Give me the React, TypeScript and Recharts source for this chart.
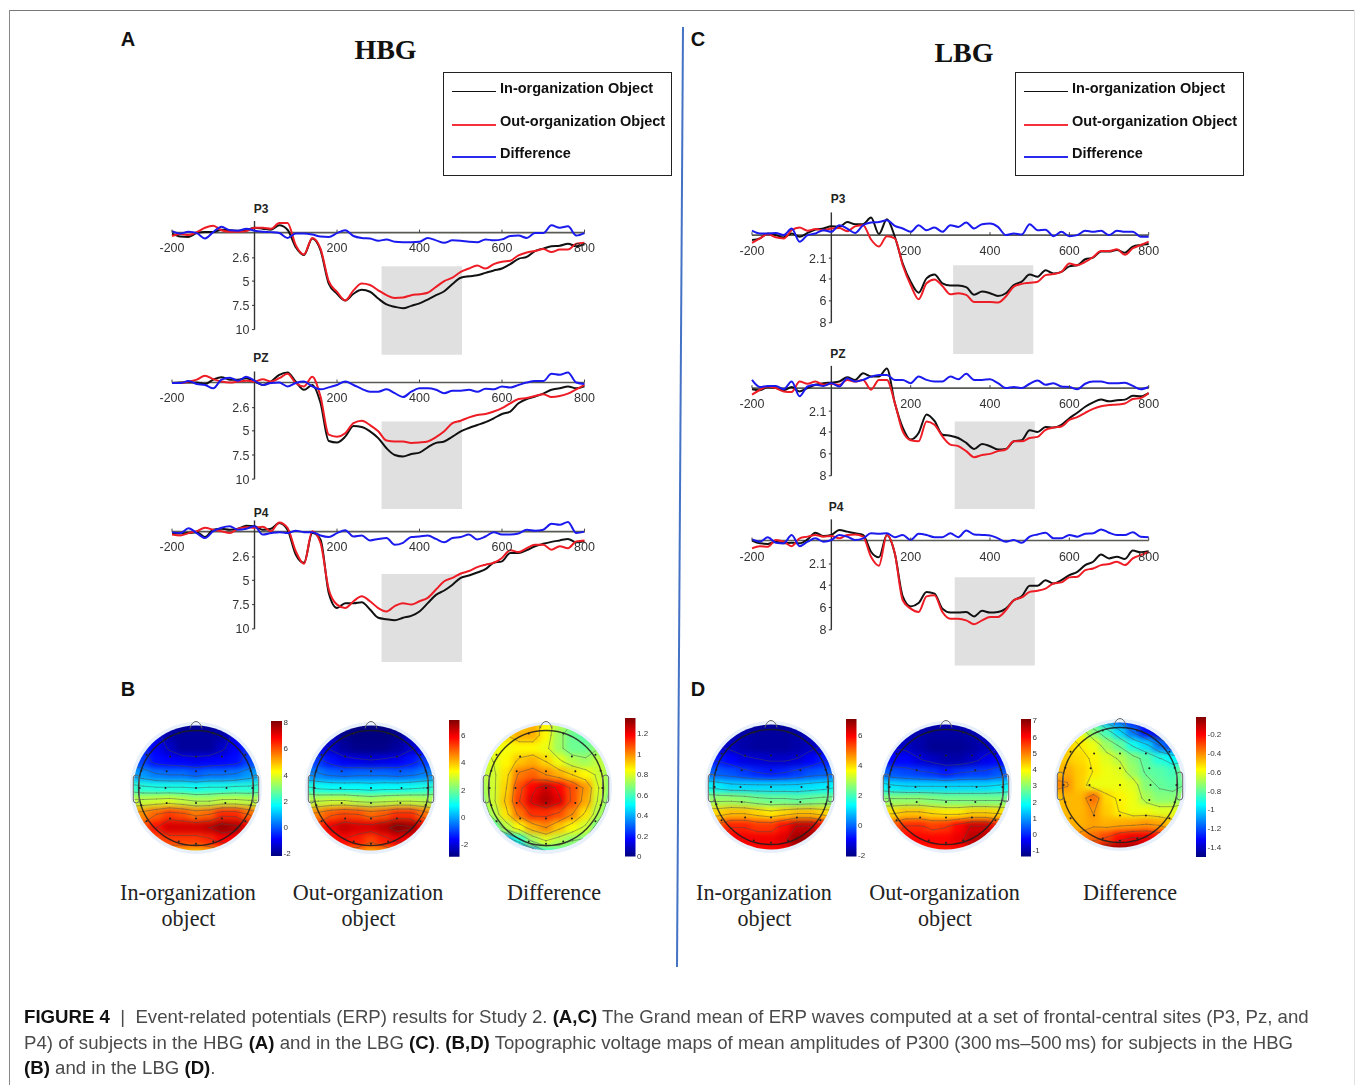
import React from "react";
import { LineChart, Line, XAxis, YAxis, ReferenceArea, ReferenceLine, ScatterChart, Scatter } from "recharts";

// ---- ERP data: latency (ms) and amplitude (µV, plotted with positive downward)
const latency = [-200,-180,-160,-140,-120,-100,-80,-60,-40,-20,0,20,40,60,80,100,120,140,160,180,200,220,240,260,280,300,320,340,360,380,400,420,440,460,480,500,520,540,560,580,600,620,640,660,680,700,720,740,760,780,800];

const hbgP3In = [.1,.4,.45,.05,-.05,-.05,-.3,-.25,-.2,-.25,-.5,-.4,-.3,-.75,-.3,1.5,2.3,.6,1.8,5.25,6.3,7,6.3,5.9,6.1,6.8,7.4,7.65,7.8,7.55,7.3,6.9,6.45,6.05,5.3,4.65,4.5,4.4,4.15,3.9,3.7,3.25,2.7,2.5,1.9,1.65,1.4,1.35,1.15,1.4,1.2];
const hbgP3Out = [.35,.15,.25,-.05,-.5,-.7,-.25,-.1,-.1,-.15,-.5,-.5,-.4,-1,-1,1.3,2.25,.55,1.65,5,6.1,7,5.95,5.25,5.4,5.95,6.45,6.75,6.7,6.45,6.35,6.2,5.6,5,4.65,4.05,3.7,3.4,3.7,3.25,3,2.9,2.35,2.05,1.9,1.7,2,1.75,1.75,1.15,1.05];
const hbgP3Diff = [-.15,.1,-.1,.05,.6,-.05,-.6,-.25,-.2,-.4,-.2,-.1,-.05,.05,.55,.1,.1,.2,.4,.45,.05,-.25,.35,.55,.6,.85,.7,.95,1,1,.95,.55,.8,1.05,.8,.85,.95,1,.7,.8,.7,.35,.3,.55,.05,.05,-.75,-.5,-.65,.3,.05];

const hbgPzIn = [.05,0,0,0,.15,-.3,-.55,-.3,-.3,-.45,-.1,.25,-.1,-.8,-1.05,-.1,.75,.25,2.1,6.05,6.2,5.6,4.5,4.6,5.05,5.75,6.8,7.5,7.65,7.4,7.25,6.7,6.25,6.1,5.6,5.05,4.7,4.4,4.1,3.7,3.25,3,2.15,1.7,1.45,1.15,.75,.6,.4,.6,.4];
const hbgPzOut = [.05,.05,-.1,-.3,-.7,-.35,-.1,0,-.1,-.2,-.1,-.35,-.1,-.45,-.9,.05,.4,-.6,1.45,5.4,5.6,5.25,4.2,3.95,4.4,5.05,6,6.1,6.1,6.25,6.2,6.1,5.65,5.05,4.2,3.95,3.6,3.35,3.25,3,2.65,2.15,1.7,1.6,1.4,1.2,1.5,1.4,1.15,.7,.25];
const hbgPzDiff = [.05,.05,-.15,.15,.25,.6,-.3,-.5,-.2,-.6,-.2,.25,.05,0,.4,.05,-.1,.4,.7,.5,.25,-.1,.25,.65,.95,.95,.7,1.1,1.5,.95,.6,.6,.75,1.1,.85,.85,.75,.95,.65,.7,.4,.5,.25,0,-.15,-.15,-.9,-.8,-1.05,0,.15];

const hbgP4In = [.2,.2,.15,.05,.55,-.2,-.3,-.2,-.3,-.6,-.55,-.2,-.3,-.9,-.2,2.35,3.2,.15,.8,6.3,7.85,7.35,7.35,7.25,8,8.85,9,9.1,8.85,8.65,8.2,7.35,6.5,6.05,5.45,4.75,4.5,4.2,3.85,3.2,3.05,2.2,2.2,1.9,1.5,1.25,1.05,.9,.75,1.1,1];
const hbgP4Out = [.3,.4,.15,-.05,-.4,-.2,-.05,.15,-.3,-.45,-.4,-.5,-.05,-.95,-.4,2,3.3,-.05,1.15,5.95,7.5,7.85,7.15,6.65,7.15,7.85,8.2,7.65,7.35,7.5,7.15,6.8,5.95,5.1,4.75,4.3,4.05,3.65,3.4,3.2,2.7,1.9,2.1,1.7,1.35,1.35,1.85,1.5,1.7,1,.9];
const hbgP4Diff = [.05,.15,-.35,.15,.65,-.05,-.4,-.55,-.2,-.3,-.55,.3,.15,.05,.15,-.1,.05,.05,.4,.55,.15,-.15,.5,.4,.9,.75,.65,1.35,1.15,.55,.5,.4,.75,1.1,.65,.55,.3,.8,.5,.05,.3,.3,.2,-.2,-.1,-.2,-.8,-.7,-1,.15,0];

const lbgP3In = [.45,.3,-.15,0,.2,-.15,.15,-.2,-.5,-.6,-.8,-.75,-1.2,-1,-1,-1.6,-.1,-1.45,.15,2.6,4.25,5.25,3.95,3.6,4.4,4.6,4.6,4.75,5.45,5.15,5.3,5.55,5.3,4.55,4.25,3.6,3.8,3.2,3.5,3.35,2.85,2.75,2.2,2.05,1.5,1.5,1.35,1.6,1.05,.9,.8];
const lbgP3Out = [.7,.3,-.1,.2,.3,-.45,-.7,-.4,-.55,-.45,-.6,-.65,-.35,-.8,-.9,.4,1.05,.1,.3,2.75,4.55,5.85,4.4,4.05,4.65,5.4,5.3,5.45,6.1,6.1,6.1,6.15,5.6,4.7,4.45,4.35,4.25,3.65,3.55,3.35,2.6,2.75,2.45,2,1.45,1.45,1.3,1.8,1.2,.9,.6];
const lbgP3Diff = [-.4,-.15,-.15,-.2,0,-.6,.6,0,-.15,-.45,-.3,-.9,-.6,-.2,-.9,-1.15,-1.2,-1.35,-.85,-.6,-.3,-.9,-.45,-.7,-.3,-.9,-.75,-1.15,-.6,-1,-1.05,-.75,0,-.15,-.05,-1,-.45,-.5,.1,-.3,.1,0,-.4,-.3,-.4,0,-.4,-.3,-.3,.15,.15];

const lbgPzIn = [.1,.2,-.1,0,.2,-.1,.3,0,-.3,-.45,-.5,-.6,-1,-.75,-1.35,-1.05,-1.05,-1.8,1.35,3.6,4.7,4.1,2.4,3,4.25,4.35,4.55,5,5.55,5.1,5.3,5.6,5.55,4.85,4.75,3.85,4,3.55,3.6,3.35,2.75,2.25,1.7,1.3,1.05,1.2,1.1,1.05,.7,.75,.45];
const lbgPzOut = [.6,.15,-.15,0,.3,.35,-.6,-.4,-.6,-.3,-.4,-.3,-.75,-.6,-.75,.15,-.75,-.75,1.35,3.95,4.75,4.85,3.05,3.35,4.4,5.15,5.3,5.75,6.3,6.1,6,5.75,5.6,4.85,4.85,4.55,4.45,3.8,3.6,3.5,2.9,2.65,2.25,1.9,1.65,1.55,1.5,1.4,1,.9,.45];
const lbgPzDiff = [-.75,-.1,-.2,-.2,.1,-.6,.75,-.15,-.3,-.2,-.45,-.15,-.9,-.6,-.75,-1.05,-1.2,-1.2,-.75,-.75,-.45,-1.05,-.75,-.6,-.6,-1.05,-.8,-1.3,-.75,-.75,-.8,-.45,0,-.1,0,-.4,-.7,-.3,-.45,-.15,-.1,.1,-.4,-.6,-.6,-.45,-.45,-.5,-.2,.1,-.1];

const lbgP4In = [0,.25,.3,.1,.25,.2,.25,-.1,-.7,-.4,-.5,-.95,-.8,-.65,-.5,1,1.5,-.5,1.15,5,5.9,5.6,4.6,4.75,6.1,6.45,6.45,6.4,6.8,6.3,6.45,6.4,6.1,5.35,5,4.05,4.05,3.55,3.85,3.55,3.1,2.8,2.2,1.9,1.25,1.6,1.45,1.65,.9,1.05,.95];
const lbgP4Out = [.7,.5,.55,-.05,.1,.5,-.2,-.35,-.5,-.35,-.4,-.2,-.5,-.55,-.35,1.45,2.25,-.5,1.15,5.35,6.1,6.4,5,4.9,6.4,7,7,7.15,7.5,7.15,6.85,6.85,6.25,5.35,5.1,4.6,4.5,4.3,3.85,3.75,3.3,3.25,2.65,2.5,2.2,2.1,1.9,2.2,1.6,1.3,1.05];
const lbgP4Diff = [-.1,.1,-.3,.2,.25,-.5,.5,.1,-.2,.1,-.05,-.5,-.35,-.05,-.2,-.65,-.6,-.65,-.3,-.5,-.05,-.6,-.5,-.3,-.3,-.65,-.3,-.9,-.55,-.5,-.45,-.2,.1,-.05,.2,-.35,-.55,-.7,-.2,-.2,-.5,-.35,-.6,-.65,-1,-.7,-.5,-.5,-.75,-.35,-.3];

const seriesNames = ["In-organization Object", "Out-organization Object", "Difference"];
const seriesColors = ["#111111", "#ee1c25", "#1a1aee"];
const xTicks = [-200, 200, 400, 600, 800];
const hbgYTicks = [2.6, 5, 7.5, 10];
const lbgYTicks = [2.1, 4, 6, 8];

// ---- topographic grids: voltage read at 11 x 11 positions across the scalp, front row first
const mapHbgIn = [
[-2,-2,-2,-2,-2,-2,-2,-2,-2,-2,-2],
[-1.2,-1.2,-1.2,-1.8,-1.9,-1.9,-1.9,-1.8,-1.2,-1.2,-1.2],
[-.5,-.5,-1,-1.5,-1.9,-1.9,-1.9,-1.5,-1,-.5,-.5],
[0,-.3,-.8,-.9,-1,-1.1,-1,-.9,-.8,-.3,0],
[.8,.6,.3,.2,.2,0,.2,.2,.3,.6,.8],
[2.2,2,1.9,1.9,1.9,1.8,1.9,1.9,2,2,2.2],
[3.6,3.6,3.7,3.8,3.6,3.4,3.4,3.6,3.6,3.5,3.5],
[5.2,5.4,5.8,6.2,6,5.6,5.8,6.4,6.4,5.8,5.2],
[5.5,6,6.6,7.2,7.2,7.2,7.4,7.8,7.6,7,6.2],
[5,5.4,6,6.2,6.2,6.2,6.4,6.8,6.8,6.4,6],
[4,4.2,4.6,5,5,4.8,5,5.4,5.6,5.5,5.5],
];
const mapHbgOut = [
[-3,-3,-3,-3,-3,-3,-3,-3,-3,-3,-3],
[-2.2,-2.2,-2.2,-2.8,-2.9,-2.9,-2.9,-2.8,-2.2,-2.2,-2.2],
[-1.5,-1.8,-2.2,-2.6,-2.8,-2.8,-2.8,-2.6,-2.2,-1.8,-1.5],
[-1,-1.1,-1.5,-1.8,-1.9,-2,-1.9,-1.8,-1.5,-1.1,-1],
[-.3,-.4,-.6,-.7,-.6,-.6,-.6,-.7,-.6,-.4,-.3],
[1.3,1,.9,.9,.9,.8,.9,.9,1,1.1,1.3],
[2.7,2.7,2.8,2.8,2.6,2.5,2.6,2.7,2.7,2.6,2.6],
[4.2,4.6,5,5.2,5.1,4.8,5,5.4,5.4,4.8,4.2],
[5,5.4,6,6.4,6.2,6.2,6.5,7,6.8,6,5.2],
[4.6,5,5.6,5.8,5.6,5.2,5.6,6,6,5.8,5.2],
[3.6,4,4.4,4.6,4.6,4.2,4.4,4.8,5,5,5],
];
const mapHbgDiff = [
[.85,.85,.85,.85,.95,.85,.75,.7,.7,.7,.7],
[.85,.85,.9,.95,.95,.85,.72,.65,.62,.65,.7],
[.78,.82,.83,.85,.85,.82,.72,.65,.65,.7,.72],
[.76,.8,.85,.92,.95,.9,.82,.75,.72,.76,.72],
[.74,.78,.88,1.02,1.05,1,.95,.9,.85,.78,.7],
[.7,.78,.9,1.08,1.18,1.25,1.18,1.08,.98,.8,.68],
[.65,.78,.92,1.1,1.22,1.28,1.22,1.08,.96,.78,.65],
[.6,.74,.88,1.03,1.12,1.12,1.08,1,.88,.74,.6],
[.45,.6,.75,.85,.95,1,.92,.85,.78,.65,.5],
[.2,.3,.4,.55,.72,.8,.75,.7,.68,.55,.45],
[0,0,.05,.1,.35,.55,.6,.6,.55,.45,.4],
];
const mapLbgIn = [
[-1.9,-1.9,-1.9,-1.9,-1.9,-1.9,-1.9,-1.9,-1.9,-1.9,-1.9],
[-1.5,-1.5,-1.6,-1.7,-1.8,-1.8,-1.8,-1.7,-1.6,-1.5,-1.5],
[-1.2,-1.3,-1.5,-1.7,-1.8,-1.8,-1.8,-1.7,-1.5,-1.3,-1.2],
[-.6,-.7,-.9,-1.2,-1.3,-1.4,-1.4,-1.3,-1,-.7,-.6],
[0,-.1,-.2,-.4,-.6,-.7,-.6,-.4,-.2,-.1,0],
[1.4,1.2,1,1,1,1,1,1,1.1,1.2,1.4],
[2.7,2.7,2.7,2.6,2.4,2.3,2.3,2.2,2.3,2.4,2.4],
[4,4,4.2,4.2,4,3.8,4,4.2,4.2,4,3.8],
[5,5.2,5.6,5.6,5.4,5.4,5.8,6.4,6.4,5.8,5],
[5.4,5.6,6,6,6,6,6.2,6.8,6.8,6.2,5.6],
[5.4,5.6,5.8,5.8,5.8,5.8,6,6.2,6.2,6,6],
];
const mapLbgOut = [
[-1,-1,-1,-1,-1,-1,-.9,-.8,-.8,-.8,-.8],
[-.9,-.9,-.9,-1,-1.1,-1.1,-1.1,-1,-.9,-.8,-.8],
[-.6,-.7,-.8,-1,-1.2,-1.2,-1.2,-1.1,-.9,-.7,-.6],
[-.2,-.3,-.3,-.6,-.8,-1,-1,-.8,-.5,-.3,-.2],
[.6,.4,.3,.2,.1,-.1,.1,.2,.2,.4,.5],
[1.8,1.6,1.5,1.5,1.5,1.5,1.5,1.5,1.5,1.6,1.8],
[3,3,3,3,2.9,2.8,2.8,2.8,2.8,2.8,2.8],
[4.2,4.2,4.4,4.4,4.2,4.1,4.1,4.3,4.3,4.2,4],
[5.2,5.3,5.7,5.7,5.5,5.6,6,6.4,6.4,5.8,5.2],
[5.4,5.6,6,6,6,6,6.2,6.6,6.6,6.2,5.6],
[5.4,5.6,5.8,5.8,5.8,5.8,5.9,6.1,6.1,6,6],
];
const mapLbgDiff = [
[-.75,-.75,-.8,-.9,-1.1,-1.2,-1.3,-1.4,-1.4,-1.4,-1.4],
[-.55,-.55,-.6,-.75,-.85,-1,-1.15,-1.3,-1.4,-1.45,-1.4],
[-.5,-.5,-.55,-.6,-.72,-.8,-.92,-1,-1.15,-1.25,-1.2],
[-.5,-.5,-.52,-.56,-.62,-.68,-.75,-.82,-.9,-.95,-.95],
[-.5,-.45,-.5,-.55,-.6,-.62,-.72,-.8,-.82,-.85,-.75],
[-.38,-.42,-.5,-.6,-.6,-.6,-.62,-.75,-.8,-.82,-.78],
[-.5,-.47,-.47,-.36,-.52,-.56,-.6,-.7,-.75,-.75,-.72],
[-.52,-.47,-.47,-.42,-.5,-.55,-.6,-.6,-.62,-.62,-.6],
[-.55,-.46,-.46,-.44,-.46,-.45,-.44,-.42,-.44,-.5,-.5],
[-.5,-.45,-.4,-.36,-.3,-.22,-.18,-.18,-.22,-.3,-.35],
[-.3,-.25,-.2,-.12,-.08,-.05,-.05,-.08,-.15,-.2,-.2],
];

const barTicksHbgIn = [-2, 0, 2, 4, 6, 8];
const barTicksHbgOut = [-2, 0, 2, 4, 6];
const barTicksHbgDiff = [0, .2, .4, .6, .8, 1, 1.2];
const barTicksLbgIn = [-2, 0, 2, 4, 6];
const barTicksLbgOut = [-1, 0, 1, 2, 3, 4, 5, 6, 7];
const barTicksLbgDiff = [-1.4, -1.2, -1, -.8, -.6, -.4, -.2];

const electrodeX = [-.45,0,.45,-.51,0,.51,-.53,0,.53,-.51,0,.51,-.45,0,.45,-.3,.3,-.3,0,.3,-.86,.86,-.86,.86,-.98,.98,-.95,.95,-.95,.95];
const electrodeY = [-.55,-.55,-.55,-.29,-.29,-.29,0,0,0,.26,.26,.26,.53,.53,.53,-.95,-.95,.93,.97,.93,.58,.58,-.58,-.58,0,0,-.3,-.3,.3,.3];

const SANS = '"Liberation Sans", Arial, sans-serif';
const SERIF = '"Liberation Serif", "Times New Roman", serif';

type Panel = { key: string; title: string; titleX: number; titleY: number; xLeft: number; xRight: number; zeroY: number; unit: number; top: number; bottom: number; axisTop: number; axisBottom: number; yTicks: number[]; band: number[]; series: number[][]; labelDy: number };

const panels: Panel[] = [
  { key: "ap3", title: "P3", titleX: 261, titleY: 209, xLeft: 172, xRight: 584.5, zeroY: 232.5, unit: 9.7, top: -1.3, bottom: 12.8, axisTop: -1.2, axisBottom: 10, yTicks: hbgYTicks, band: [308, 503, 3.47, 12.6], series: [hbgP3In, hbgP3Out, hbgP3Diff], labelDy: 15 },
  { key: "apz", title: "PZ", titleX: 261, titleY: 358, xLeft: 172, xRight: 584.5, zeroY: 382.7, unit: 9.66, top: -1.3, bottom: 13.2, axisTop: -1.15, axisBottom: 10, yTicks: hbgYTicks, band: [308, 503, 4.04, 13.1], series: [hbgPzIn, hbgPzOut, hbgPzDiff], labelDy: 15 },
  { key: "ap4", title: "P4", titleX: 261, titleY: 513, xLeft: 172, xRight: 584.5, zeroY: 532, unit: 9.73, top: -1.3, bottom: 13.5, axisTop: -1.15, axisBottom: 10, yTicks: hbgYTicks, band: [308, 503, 4.35, 13.4], series: [hbgP4In, hbgP4Out, hbgP4Diff], labelDy: 15 },
  { key: "cp3", title: "P3", titleX: 838, titleY: 199, xLeft: 752.3, xRight: 1149, zeroY: 235, unit: 10.96, top: -2.2, bottom: 11, axisTop: -2.07, axisBottom: 8, yTicks: lbgYTicks, band: [307, 509, 2.74, 10.85], series: [lbgP3In, lbgP3Out, lbgP3Diff], labelDy: 16 },
  { key: "cpz", title: "PZ", titleX: 838, titleY: 354, xLeft: 752.3, xRight: 1149, zeroY: 388.3, unit: 10.96, top: -2.2, bottom: 11.2, axisTop: -2.03, axisBottom: 8, yTicks: lbgYTicks, band: [311, 513, 3.05, 11.04], series: [lbgPzIn, lbgPzOut, lbgPzDiff], labelDy: 16 },
  { key: "cp4", title: "P4", titleX: 836, titleY: 507, xLeft: 752.3, xRight: 1149, zeroY: 540.7, unit: 11.16, top: -2.2, bottom: 11.3, axisTop: -1.9, axisBottom: 8, yTicks: lbgYTicks, band: [311, 513, 3.28, 11.2], series: [lbgP4In, lbgP4Out, lbgP4Diff], labelDy: 16 },
];

const ML = 32, MR = 22, MT = 2, MB = 2;

function ErpPanel({ p }: { p: Panel }) {
  const plotW = p.xRight - p.xLeft;
  const plotH = (p.bottom - p.top) * p.unit;
  const rows = latency.map((t, i) => ({ t, a: p.series[0][i], b: p.series[1][i], c: p.series[2][i] }));
  const zeroInChart = MT + (0 - p.top) * p.unit;
  const axisX = ML + plotW * 0.2;
  const XTick = (t: any) => (
    <g>
      <line x1={t.x} x2={t.x} y1={zeroInChart} y2={zeroInChart - 3} stroke="#444" strokeWidth={1} />
      <text x={t.x} y={zeroInChart + p.labelDy + 4} textAnchor="middle" fontSize={12.5} fontFamily={SANS} fill="#333">{t.payload.value}</text>
    </g>
  );
  const YTick = (t: any) => (
    <g>
      <line x1={axisX - 2.5} x2={axisX} y1={t.y} y2={t.y} stroke="#333" strokeWidth={1} />
      <text x={axisX - 5} y={t.y + 4.5} textAnchor="end" fontSize={12.5} fontFamily={SANS} fill="#333">{t.payload.value}</text>
    </g>
  );
  return (
    <div style={{ position: "absolute", left: p.xLeft - ML, top: p.zeroY + p.top * p.unit - MT, filter: "blur(0.4px)" }}>
      <LineChart width={plotW + ML + MR} height={plotH + MT + MB} data={rows} margin={{ left: ML - 1, right: MR, top: MT, bottom: MB - 1 }}>
        <XAxis dataKey="t" type="number" domain={[-200, 800]} ticks={xTicks} interval={0} height={1} axisLine={false} tickLine={false} tick={XTick} />
        <YAxis type="number" reversed domain={[p.top, p.bottom]} allowDataOverflow ticks={p.yTicks} interval={0} width={1} axisLine={false} tickLine={false} tick={YTick} />
        <ReferenceArea x1={p.band[0]} x2={p.band[1]} y1={p.band[2]} y2={p.band[3]} fill="#e0e0e0" fillOpacity={1} stroke="none" />
        <ReferenceLine y={0} stroke="#5a5a55" strokeWidth={1.6} />
        <ReferenceLine segment={[{ x: 0, y: p.axisTop }, { x: 0, y: p.axisBottom }]} stroke="#333" strokeWidth={1.4} />
        <Line type="monotone" dataKey="a" name={seriesNames[0]} stroke={seriesColors[0]} strokeWidth={2} dot={false} isAnimationActive={false} />
        <Line type="monotone" dataKey="b" name={seriesNames[1]} stroke={seriesColors[1]} strokeWidth={2} dot={false} isAnimationActive={false} />
        <Line type="monotone" dataKey="c" name={seriesNames[2]} stroke={seriesColors[2]} strokeWidth={2} dot={false} isAnimationActive={false} />
      </LineChart>
    </div>
  );
}

function jet(t: number) {
  const k = Math.max(0, Math.min(1, t));
  const f = (o: number) => Math.round(255 * Math.max(0, Math.min(1, 1.5 - Math.abs(4 * k - o))));
  return `rgb(${f(3)},${f(2)},${f(1)})`;
}

function contourPath(grid: number[][], level: number, toX: (c: number) => number, toY: (r: number) => number) {
  let d = "";
  for (let r = 0; r < grid.length - 1; r++) {
    for (let c = 0; c < grid[r].length - 1; c++) {
      const corners = [[c, r, grid[r][c]], [c + 1, r, grid[r][c + 1]], [c + 1, r + 1, grid[r + 1][c + 1]], [c, r + 1, grid[r + 1][c]]];
      const hits: number[][] = [];
      for (let i = 0; i < 4; i++) {
        const a = corners[i], b = corners[(i + 1) % 4];
        if ((a[2] < level) !== (b[2] < level)) {
          const s = (level - a[2]) / (b[2] - a[2]);
          hits.push([a[0] + s * (b[0] - a[0]), a[1] + s * (b[1] - a[1])]);
        }
      }
      for (let i = 0; i + 1 < hits.length; i += 2) {
        d += `M${toX(hits[i][0]).toFixed(1)} ${toY(hits[i][1]).toFixed(1)}L${toX(hits[i + 1][0]).toFixed(1)} ${toY(hits[i + 1][1]).toFixed(1)}`;
      }
    }
  }
  return d;
}

const BOX = 150, CELL = 13.2, PAD = 9, R = 62.5;

function TopoMap({ id, grid, cx, cy, min, max, step }: { id: string; grid: number[][]; cx: number; cy: number; min: number; max: number; step: number }) {
  const cells = grid.flatMap((row, r) => row.map((v, c) => ({ c, r, v })));
  const electrodes = electrodeX.map((x, i) => ({ x, y: electrodeY[i] }));
  const span = BOX / 2 - PAD;
  const levels: number[] = [];
  for (let l = min + step; l < max; l += step) levels.push(l);
  const toX = (c: number) => PAD + c * CELL;
  const Cell = (s: any) => (
    <rect x={s.cx - CELL / 2 - 0.5} y={s.cy - CELL / 2 - 0.5} width={CELL + 1} height={CELL + 1} fill={jet((s.payload.v - min) / (max - min))} />
  );
  const Dot = (s: any) => <circle cx={s.cx} cy={s.cy} r={1} fill="#222" />;
  const m = { left: PAD, right: PAD, top: PAD, bottom: PAD };
  const hr = 57.5;
  const c0 = BOX / 2;
  const base: React.CSSProperties = { position: "absolute", left: cx - c0, top: cy - c0, width: BOX, height: BOX };
  return (
    <>
      <div style={{ position: "absolute", left: cx - 66, top: cy - 66, width: 132, height: 132, borderRadius: "50%", background: "#e8f0fb" }} />
      <div style={{ ...base, clipPath: `circle(${R}px at ${c0}px ${c0}px)` }}>
        <div style={{ filter: "blur(3.2px)" }}>
          <ScatterChart width={BOX} height={BOX} margin={m}>
            <XAxis type="number" dataKey="c" domain={[0, 10]} hide />
            <YAxis type="number" dataKey="r" domain={[0, 10]} reversed hide />
            <Scatter data={cells} shape={Cell} isAnimationActive={false} />
          </ScatterChart>
        </div>
      </div>
      <div style={{ ...base, filter: "blur(0.5px)" }}>
        <ScatterChart width={BOX} height={BOX} margin={m}>
          <XAxis type="number" dataKey="x" domain={[-span / hr, span / hr]} hide />
          <YAxis type="number" dataKey="y" domain={[-span / hr, span / hr]} reversed hide />
          <defs>
            <clipPath id={`clip-${id}`}><circle cx={c0} cy={c0} r={R} /></clipPath>
          </defs>
          <g clipPath={`url(#clip-${id})`} fill="none" stroke="#4a4a4a" strokeOpacity={0.5} strokeWidth={0.9} strokeLinecap="round">
            {levels.map((l) => <path key={l} d={contourPath(grid, l, toX, toX)} />)}
          </g>
          <circle cx={c0} cy={c0} r={hr} fill="none" stroke="#1c1c1c" strokeOpacity={0.85} strokeWidth={1.4} />
          <path d={`M${c0 - 6} ${c0 - hr - 2}Q${c0 - 4} ${c0 - hr - 9} ${c0} ${c0 - hr - 9}Q${c0 + 4} ${c0 - hr - 9} ${c0 + 6} ${c0 - hr - 2}`} fill="none" stroke="#666" strokeWidth={1} />
          <rect x={c0 - 62.7} y={c0 - 13} width={6} height={28} rx={3} fill="none" stroke="#666" strokeWidth={1} />
          <rect x={c0 + 56.7} y={c0 - 13} width={6} height={28} rx={3} fill="none" stroke="#666" strokeWidth={1} />
          <Scatter data={electrodes} shape={Dot} isAnimationActive={false} />
        </ScatterChart>
      </div>
    </>
  );
}

const BAR_PAD = 7;

function ColorBar({ id, left, right, top, bottom, min, max, ticks }: { id: string; left: number; right: number; top: number; bottom: number; min: number; max: number; ticks: number[] }) {
  const w = right - left;
  const stops = [0, .125, .375, .625, .875, 1];
  const Tick = (t: any) => (
    <text x={1 + w + 1.5} y={t.y + 3} fontSize={8} fontFamily={SANS} fill="#333">{t.payload.value}</text>
  );
  return (
    <div style={{ position: "absolute", left: left - 1, top: top - BAR_PAD, filter: "blur(0.3px)" }}>
      <LineChart width={w + 1 + 22} height={bottom - top + 2 * BAR_PAD} data={ticks.map((v) => ({ v }))} margin={{ left: 0, right: 22, top: BAR_PAD, bottom: BAR_PAD }}>
        <defs>
          <linearGradient id={`bar-${id}`} x1="0" y1="1" x2="0" y2="0">
            {stops.map((s) => <stop key={s} offset={s} stopColor={jet(s)} />)}
          </linearGradient>
        </defs>
        <XAxis hide />
        <YAxis type="number" domain={[min, max]} allowDataOverflow ticks={ticks} interval={0} width={1} axisLine={false} tickLine={false} tick={Tick} />
        <ReferenceArea y1={min} y2={max} fill={`url(#bar-${id})`} fillOpacity={1} stroke="none" />
        <Line dataKey="v" stroke="none" dot={false} isAnimationActive={false} />
      </LineChart>
    </div>
  );
}

function Centered({ x, y, style, children }: { x: number; y: number; style?: React.CSSProperties; children: React.ReactNode }) {
  return <div style={{ position: "absolute", left: x, top: y, transform: "translate(-50%,-50%)", whiteSpace: "nowrap", lineHeight: 1, ...style }}>{children}</div>;
}

function LegendBox({ left }: { left: number }) {
  const rowY = [15, 48, 80];
  const lineY = [18, 51, 83];
  return (
    <div style={{ position: "absolute", left, top: 72, width: 227, height: 102, border: "1.4px solid #222", background: "#fff", filter: "blur(0.35px)" }}>
      {seriesNames.map((n, i) => (
        <React.Fragment key={n}>
          <div style={{ position: "absolute", left: 8, top: lineY[i], width: 44, height: i === 0 ? 1 : 2, background: i === 1 ? "#f4303a" : i === 2 ? "#2a2aee" : "#111" }} />
          <div style={{ position: "absolute", left: 56, top: rowY[i] - 8, fontFamily: SANS, fontWeight: 700, fontSize: 14.5, lineHeight: "16px", color: "#111", whiteSpace: "nowrap" }}>{n}</div>
        </React.Fragment>
      ))}
    </div>
  );
}

const serifLabel: React.CSSProperties = { fontFamily: SERIF, fontSize: 22.1, color: "#222" };
const headLabel: React.CSSProperties = { fontFamily: SERIF, fontWeight: 700, fontSize: 28, color: "#111" };
const letterLabel: React.CSSProperties = { fontFamily: SANS, fontWeight: 700, fontSize: 20, color: "#111" };
const panelLabel: React.CSSProperties = { fontFamily: SANS, fontWeight: 700, fontSize: 12, color: "#222" };
const captionLine: React.CSSProperties = { position: "absolute", left: 24, whiteSpace: "nowrap", fontFamily: SANS, fontSize: 18.64, lineHeight: "22px", color: "#4a4a4a", filter: "blur(0.25px)" };
const bold: React.CSSProperties = { fontWeight: 700, color: "#111" };

export default function App() {
  return (
    <div style={{ position: "absolute", left: 0, top: 0, width: 1355, height: 1085, background: "#fff", overflow: "hidden" }}>
      <div style={{ position: "absolute", left: 9, top: 10, width: 1346, height: 1.4, background: "#777" }} />
      <div style={{ position: "absolute", left: 9, top: 10, width: 1.2, height: 1075, background: "#888" }} />
      <div style={{ position: "absolute", left: 1354, top: 10, width: 1, height: 1075, background: "#e2e2e2" }} />
      <svg style={{ position: "absolute", left: 0, top: 0 }} width={1355} height={1085}>
        <line x1={683} y1={27} x2={677} y2={967} stroke="#4472c4" strokeWidth={2} />
      </svg>

      <Centered x={128} y={39} style={letterLabel}>A</Centered>
      <Centered x={698} y={39} style={letterLabel}>C</Centered>
      <Centered x={128} y={689} style={letterLabel}>B</Centered>
      <Centered x={698} y={689} style={letterLabel}>D</Centered>
      <Centered x={385.5} y={50} style={headLabel}>HBG</Centered>
      <Centered x={964} y={53} style={headLabel}>LBG</Centered>

      <LegendBox left={443} />
      <LegendBox left={1015} />

      {panels.map((p) => <ErpPanel key={p.key} p={p} />)}
      {panels.map((p) => <Centered key={p.key} x={p.titleX} y={p.titleY} style={panelLabel}>{p.title}</Centered>)}

      <TopoMap id="m1" grid={mapHbgIn} cx={196} cy={788} min={-2.2} max={8.08} step={0.8} />
      <TopoMap id="m2" grid={mapHbgOut} cx={371} cy={788} min={-2.9} max={7.1} step={0.8} />
      <TopoMap id="m3" grid={mapHbgDiff} cx={546} cy={787.5} min={0} max={1.35} step={0.1} />
      <TopoMap id="m4" grid={mapLbgIn} cx={771} cy={787} min={-2.07} max={7.04} step={0.7} />
      <TopoMap id="m5" grid={mapLbgOut} cx={945.5} cy={787} min={-1.37} max={7.08} step={0.7} />
      <TopoMap id="m6" grid={mapLbgDiff} cx={1119.5} cy={785} min={-1.506} max={-0.016} step={0.12} />

      <ColorBar id="m1" left={271} right={282} top={720.7} bottom={855.7} min={-2.2} max={8.08} ticks={barTicksHbgIn} />
      <ColorBar id="m2" left={448.5} right={459} top={720} bottom={856.7} min={-2.9} max={7.1} ticks={barTicksHbgOut} />
      <ColorBar id="m3" left={625} right={635.5} top={718.3} bottom={856.7} min={0} max={1.35} ticks={barTicksHbgDiff} />
      <ColorBar id="m4" left={846} right={856.5} top={719.3} bottom={856.7} min={-2.07} max={7.04} ticks={barTicksLbgIn} />
      <ColorBar id="m5" left={1020.5} right={1030.5} top={719.3} bottom={856.7} min={-1.37} max={7.08} ticks={barTicksLbgOut} />
      <ColorBar id="m6" left={1195.7} right={1205.7} top={716.7} bottom={856.7} min={-1.506} max={-0.016} ticks={barTicksLbgDiff} />

      <Centered x={188} y={893} style={serifLabel}>In-organization</Centered>
      <Centered x={188.5} y={919} style={serifLabel}>object</Centered>
      <Centered x={368} y={893} style={serifLabel}>Out-organization</Centered>
      <Centered x={368.5} y={919} style={serifLabel}>object</Centered>
      <Centered x={554} y={893} style={serifLabel}>Difference</Centered>
      <Centered x={764} y={893} style={serifLabel}>In-organization</Centered>
      <Centered x={764.5} y={919} style={serifLabel}>object</Centered>
      <Centered x={944.5} y={893} style={serifLabel}>Out-organization</Centered>
      <Centered x={945} y={919} style={serifLabel}>object</Centered>
      <Centered x={1130} y={893} style={serifLabel}>Difference</Centered>

      <div style={{ ...captionLine, top: 1006 }}>
        <span style={bold}>FIGURE 4</span>&nbsp; | &nbsp;Event-related potentials (ERP) results for Study 2. <span style={bold}>(A,C)</span> The Grand mean of ERP waves computed at a set of frontal-central sites (P3, Pz, and
      </div>
      <div style={{ ...captionLine, top: 1032 }}>
        P4) of subjects in the HBG <span style={bold}>(A)</span> and in the LBG <span style={bold}>(C)</span>. <span style={bold}>(B,D)</span> Topographic voltage maps of mean amplitudes of P300 (300{"\u2009"}ms–500{"\u2009"}ms) for subjects in the HBG
      </div>
      <div style={{ ...captionLine, top: 1057 }}>
        <span style={bold}>(B)</span> and in the LBG <span style={bold}>(D)</span>.
      </div>
    </div>
  );
}
